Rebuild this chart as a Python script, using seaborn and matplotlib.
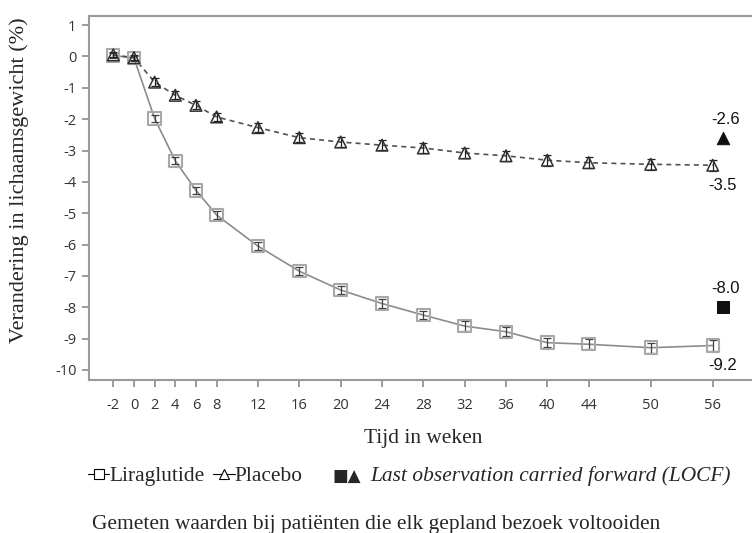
import matplotlib
matplotlib.use("Agg")
import matplotlib.pyplot as plt
from matplotlib.lines import Line2D
import seaborn as sns
import pandas as pd

# ---- data ----
weeks = [-2, 0, 2, 4, 6, 8, 12, 16, 20, 24, 28, 32, 36, 40, 44, 50, 56]
liraglutide = [0.03, -0.05, -1.98, -3.33, -4.27, -5.06, -6.05, -6.85, -7.45,
               -7.88, -8.25, -8.60, -8.78, -9.13, -9.18, -9.29, -9.22]
placebo = [0.05, -0.04, -0.82, -1.24, -1.56, -1.93, -2.27, -2.59, -2.73,
           -2.83, -2.92, -3.08, -3.17, -3.31, -3.39, -3.44, -3.47]
lira_err = [0.08, 0.08, 0.10, 0.11, 0.12, 0.12, 0.13, 0.13, 0.13,
            0.14, 0.14, 0.15, 0.15, 0.15, 0.16, 0.16, 0.16]
plac_err = [0.08, 0.08, 0.12, 0.13, 0.13, 0.14, 0.15, 0.15, 0.16,
            0.16, 0.16, 0.17, 0.17, 0.17, 0.17, 0.18, 0.18]
locf_week = [57, 57]
locf_values = [-7.98, -2.61]
locf_labels = ["-8.0", "-2.6"]
end_labels = ["-9.2", "-3.5"]
xtick_labels = [-2, 0, 2, 4, 6, 8, 12, 16, 20, 24, 28, 32, 36, 40, 44, 50, 56]
ytick_labels = list(range(1, -11, -1))

sns.set_theme(style="white")
plt.rcParams["font.family"] = ["DejaVu Sans"]

fig = plt.figure(figsize=(7.52, 5.33), dpi=100)
ax = fig.add_axes([89 / 752, 1 - 380 / 533, 1 - 89 / 752, (380 - 16) / 533])

df = pd.DataFrame({
    "week": weeks * 2,
    "value": liraglutide + placebo,
    "group": ["Liraglutide"] * len(weeks) + ["Placebo"] * len(weeks),
})

sns.lineplot(data=df[df.group == "Liraglutide"], x="week", y="value", ax=ax,
             color="#8c8c8c", linewidth=1.2, legend=False)
sns.lineplot(data=df[df.group == "Placebo"], x="week", y="value", ax=ax,
             color="#505050", linewidth=1.2, linestyle=(0, (3, 2.5)), legend=False)

ax.errorbar(weeks, liraglutide, yerr=lira_err, fmt="none", ecolor="#404040",
            elinewidth=0.9, capsize=3, capthick=0.9, zorder=4)
ax.errorbar(weeks, placebo, yerr=plac_err, fmt="none", ecolor="#202020",
            elinewidth=0.9, capsize=3, capthick=0.9, zorder=4)

sns.scatterplot(x=weeks, y=liraglutide, ax=ax, marker="s", s=80,
                facecolor="none", edgecolor="#a8a8a8", linewidth=1.5, zorder=5)
sns.scatterplot(x=weeks, y=placebo, ax=ax, marker="^", s=70,
                facecolor="none", edgecolor="#303030", linewidth=1.1, zorder=5)

# LOCF points
sns.scatterplot(x=locf_week[:1], y=locf_values[:1], ax=ax, marker="s", s=85,
                color="#111111", edgecolor="#111111", zorder=6)
sns.scatterplot(x=locf_week[1:], y=locf_values[1:], ax=ax, marker="^", s=80,
                color="#111111", edgecolor="#111111", zorder=6)

lab_font = dict(family="Liberation Sans", fontsize=12, color="#111111")
for xv, yv, t in zip(locf_week, locf_values, locf_labels):
    ax.annotate(t, (xv, yv), xytext=(2, 8), textcoords="offset points",
                ha="center", va="bottom", **lab_font)
ax.annotate(end_labels[0], (weeks[-1], liraglutide[-1]), xytext=(7, -9),
            textcoords="offset points", ha="center", va="top", **lab_font)
ax.annotate(end_labels[1], (weeks[-1], placebo[-1]), xytext=(7, -9),
            textcoords="offset points", ha="center", va="top", **lab_font)

ax.set_xlim(-4.35, 59.8)
ax.set_ylim(-10.32, 1.29)
ax.set_xticks(xtick_labels)
ax.set_xticklabels([str(v) for v in xtick_labels])
ax.set_yticks(ytick_labels)
ax.set_yticklabels([str(v) for v in ytick_labels])
ax.set_xlabel("")
ax.set_ylabel("")

ax.spines["right"].set_visible(False)
for side in ["left", "bottom", "top"]:
    ax.spines[side].set_color("#9a9a9a")
    ax.spines[side].set_linewidth(1.5)

ax.tick_params(axis="both", which="major", direction="out", length=5, width=1.2,
               color="#8a8a8a", labelcolor="#333333", labelsize=10.5, pad=4,
               left=True, bottom=True)
for lbl in ax.get_xticklabels() + ax.get_yticklabels():
    lbl.set_family("Open Sans")
ax.tick_params(axis="x", pad=8)

serif = "Liberation Serif"
fig.text(19 / 752, 1 - 180 / 533, "Verandering in lichaamsgewicht (%)",
         rotation=90, ha="center", va="center", family=serif, fontsize=16)
fig.text(423 / 752, 1 - 438 / 533, "Tijd in weken", ha="center", va="center",
         family=serif, fontsize=15.4)

handles = [
    Line2D([0], [0], color="black", lw=0.8, marker="s", markersize=7,
           markerfacecolor="white", markeredgecolor="black", markeredgewidth=0.8),
    Line2D([0], [0], color="black", lw=0.8, marker="^", markersize=7,
           markerfacecolor="white", markeredgecolor="black", markeredgewidth=0.8),
]
fig.legend(handles, ["Liraglutide", "Placebo"], loc="center left",
           bbox_to_anchor=(88 / 752, 1 - 476 / 533), ncol=2, frameon=False,
           handlelength=1.0, handletextpad=0.0, columnspacing=0.4,
           borderpad=0, borderaxespad=0, prop={"family": serif, "size": 15.4})

fig.text(332 / 752, 1 - 476 / 533, "\u25a0\u25b2", ha="left", va="center",
         family="DejaVu Sans", fontsize=12)
fig.text(370 / 752, 1 - 476 / 533, "Last observation carried forward (LOCF)",
         ha="left", va="center", family=serif, style="italic", fontsize=15.4)
fig.text(92 / 752, 1 - 524 / 533,
         "Gemeten waarden bij pati\u00ebnten die elk gepland bezoek voltooiden",
         ha="left", va="center", family=serif, fontsize=15.4)

fig.savefig("out.png", dpi=100)
